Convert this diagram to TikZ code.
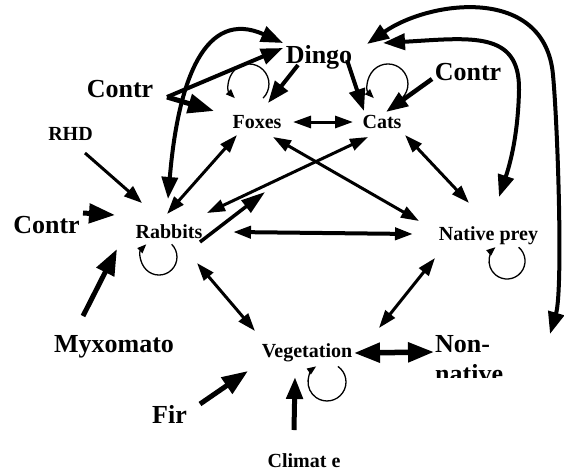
\documentclass[tikz,border=0pt]{standalone}
\usepackage{fontspec}
\setmainfont{Liberation Serif}
\usetikzlibrary{arrows.meta}

\tikzset{
	big/.style={font=\bfseries\fontsize{26}{30}\selectfont, inner sep=0pt, anchor=base},
	small/.style={font=\bfseries\fontsize{20}{24}\selectfont, inner sep=0pt, anchor=base},
	heavy/.style={line width=5pt, -{Triangle[length=26pt,width=19pt]}},
	push/.style={line width=4pt, -{Triangle[length=22pt,width=16pt]}},
	twoway/.style={line width=4pt, {Triangle[length=22pt,width=16pt]}-{Triangle[length=22pt,width=16pt]}},
	mutual/.style={line width=3pt, {Triangle[length=18pt,width=12pt]}-{Triangle[length=18pt,width=12pt]}},
	selfloop/.style={line width=1.3pt, -{Triangle[length=9pt,width=7pt]}},
}

\begin{document}
\begin{tikzpicture}[x=1pt, y=-1pt]
	\useasboundingbox (0,0) rectangle (564,472);

	% species
	\node[big] (Dingo) at (319,63) {Dingo};
	\node[small] (Foxes) at (257,128) {Foxes};
	\node[small] (Cats) at (382,128) {Cats};
	\node[small] (Rabbits) at (169,238) {Rabbits};
	\node[small] (Prey) at (488.5,240) {Native prey};
	\node[small] (Veg) at (307,357) {Vegetation};
	\node[big, anchor=base west] (NonNative) at (435,352) {Non-};
	\begin{scope}
		\clip (420,360) rectangle (520,377);
		\node[big, anchor=base west] (NonNativeB) at (435,382) {native};
	\end{scope}

	% drivers
	\node[big] (ContrA) at (120,97) {Contr};
	\node[big] (ContrB) at (468,80) {Contr};
	\node[big] (ContrC) at (46.5,233) {Contr};
	\node[small] (RHD) at (70.5,140) {RHD};
	\node[big] (Myxo) at (114,352) {Myxomato};
	\node[big] (Fir) at (169.5,423) {Fir};
	\node[small] (Climate) at (304,467) {Climat e};
	\coordinate (RabbitsUp) at (265,192);

	% control and disease
	\draw[push] ([shift={(47,0)}]ContrA.base) -- ([shift={(-36,-15)}]Dingo.base);
	\draw[heavy] ([shift={(47,0)}]ContrA.base) -- ([shift={(-43,-17)}]Foxes.base);
	\draw[push, line width=4.5pt] ([shift={(-36,-1)}]ContrB.base) -- ([shift={(4,-16)}]Cats.base);
	\draw[heavy] ([shift={(36.5,-20)}]ContrC.base) -- ([shift={(-54,-23)}]Rabbits.base);
	\draw[line width=3pt, -{Triangle[length=18pt,width=13pt]}] ([shift={(14.5,13)}]RHD.base) -- ([shift={(-27,-35)}]Rabbits.base);
	\draw[heavy] ([shift={(-31,-36)}]Myxo.base) -- ([shift={(-52,11)}]Rabbits.base);
	\draw[heavy] ([shift={(30.5,-19)}]Fir.base) -- ([shift={(-59,14)}]Veg.base);
	\draw[push, line width=5pt] ([shift={(-10,-37)}]Climate.base) -- ([shift={(-12,20)}]Veg.base);

	% predation
	\draw[push] ([shift={(-21,2)}]Dingo.base) -- ([shift={(11,-25)}]Foxes.base);
	\draw[push] ([shift={(28,-3)}]Dingo.base) -- ([shift={(-18,-17)}]Cats.base);
	\draw[twoway] ([shift={(-1,-39)}]Rabbits.base) .. controls +(10,-119) and +(-78,-35) .. ([shift={(-36,-20)}]Dingo.base);
	\draw[twoway] ([shift={(64,-20)}]Dingo.base) .. controls +(87,-5) and +(1,-60) .. ([shift={(30.5,-150)}]Prey.base)
		.. controls +(-1,50) and +(9,-27) .. ([shift={(10.5,-43)}]Prey.base);
	\draw[twoway] ([shift={(48,-19)}]Dingo.base) .. controls +(63,-44) and +(-8,-90) .. ([shift={(118,-277)}]NonNative.base west)
		.. controls +(5,54) and +(13,-44) .. ([shift={(115,-18)}]NonNative.base west);

	% interactions
	\draw[mutual] ([shift={(36,-6)}]Foxes.base) -- ([shift={(-29,-6)}]Cats.base);
	\draw[mutual] ([shift={(-2,-24)}]Rabbits.base) -- ([shift={(-20,7)}]Foxes.base);
	\draw[mutual] ([shift={(38,-25)}]Rabbits.base) -- ([shift={(-14,9)}]Cats.base);
	\draw[line width=3.5pt, -{Triangle[length=24pt,width=15pt]}] ([shift={(31,4)}]Rabbits.base) -- (RabbitsUp);
	\draw[mutual, line width=4pt] ([shift={(64,-6)}]Rabbits.base) -- ([shift={(-75.5,-6)}]Prey.base);
	\draw[mutual] ([shift={(16,9)}]Foxes.base) -- ([shift={(-69.5,-19)}]Prey.base);
	\draw[mutual] ([shift={(23,7)}]Cats.base) -- ([shift={(-19.5,-37)}]Prey.base);
	\draw[mutual] ([shift={(-53.5,18)}]Prey.base) -- ([shift={(72,-29)}]Veg.base);
	\draw[mutual] ([shift={(28,25)}]Rabbits.base) -- ([shift={(-52,-26)}]Veg.base);
	\draw[line width=5.5pt, {Triangle[length=26pt,width=19pt]}-{Triangle[length=26pt,width=19pt]}] ([shift={(47,-4)}]Veg.base) -- ([shift={(-1,0)}]NonNative.base west);

	% self regulation
	\draw[selfloop] ([shift={(6.1,-29.9)}]Foxes.base) arc[start angle=45, end angle=-225, radius=20];
	\draw[selfloop] ([shift={(20.1,-29.9)}]Cats.base) arc[start angle=45, end angle=-225, radius=20];
	\draw[selfloop] ([shift={(2.7,6.3)}]Rabbits.base) arc[start angle=-45, end angle=225, radius=18];
	\draw[selfloop] ([shift={(30.1,7.2)}]Prey.base) arc[start angle=-50, end angle=230, radius=18];
	\draw[selfloop] ([shift={(30.9,9.4)}]Veg.base) arc[start angle=-55, end angle=235, radius=19];
\end{tikzpicture}
\end{document}
